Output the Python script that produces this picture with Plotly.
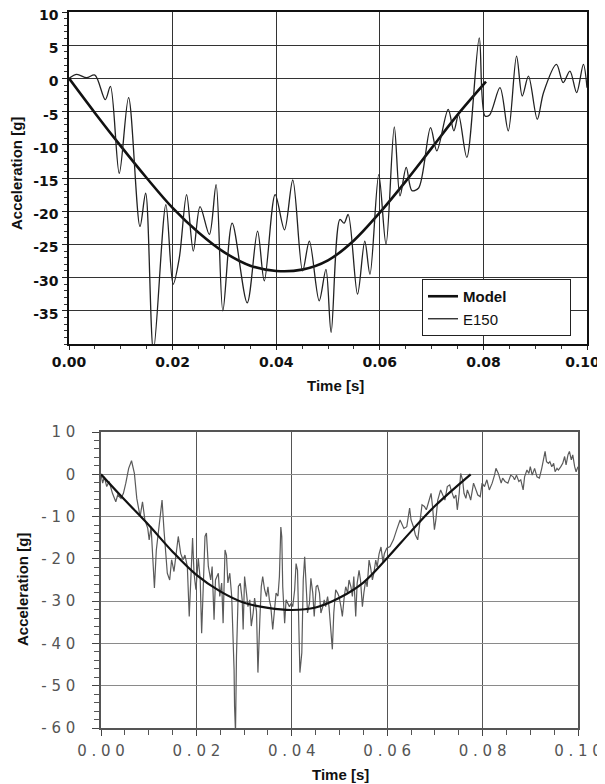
import plotly.graph_objects as go

# ---------------- data: top panel ----------------
top_model_t = [0, 0.005, 0.01, 0.015, 0.02, 0.025, 0.03, 0.035, 0.04, 0.045,
               0.05, 0.055, 0.06, 0.065, 0.07, 0.075, 0.0805]
top_model_v = [0, -5.2, -10.2, -15.0, -19.5, -23.2, -26.2, -28.2, -29.0, -28.8,
               -27.4, -24.4, -20.2, -15.5, -10.5, -5.5, -0.5]

top_e150_t = [0, 0.0015, 0.0034, 0.005, 0.007, 0.008, 0.0097, 0.0115, 0.0137, 0.0148,
              0.0163, 0.0187, 0.0201, 0.0213, 0.0227, 0.024, 0.0253, 0.0271, 0.0284, 0.0297,
              0.0315, 0.0344, 0.0364, 0.0377, 0.0398, 0.0416, 0.0432, 0.0451, 0.0464, 0.0483,
              0.0496, 0.0506, 0.0523, 0.0531, 0.0539, 0.0557, 0.0571, 0.0581, 0.0598, 0.0612,
              0.0628, 0.0639, 0.0651, 0.0662, 0.0675, 0.0698, 0.071, 0.0732, 0.0743, 0.0752,
              0.0768, 0.0792, 0.0803, 0.0812, 0.0832, 0.0848, 0.0864, 0.0875, 0.0887, 0.0904,
              0.0916, 0.0941, 0.0954, 0.0967, 0.098, 0.0993, 0.1]
top_e150_v = [0, 0.6, 0.1, 0.5, -3.2, -1.2, -14.3, -2.9, -22.3, -17.3,
              -41.0, -19.0, -31.0, -27.0, -17.5, -26.0, -19.3, -23.5, -16.0, -35.0,
              -21.8, -33.8, -23.0, -30.5, -17.5, -22.8, -15.3, -29.0, -24.5, -33.5,
              -28.75, -38.25, -21.25, -21.8, -20.5, -32.5, -24.5, -29.5, -14.5, -25.0,
              -7.3, -17.7, -13.4, -16.9, -16.5, -7.4, -10.9, -4.65, -7.9, -5.5,
              -11.9, 6.1, -5.65, -5.5, -1.4, -7.9, 3.35, -2.65, 0.35, -6.15,
              -2.15, 2.1, -0.65, 1.1, -2.15, 2.1, -1.4]

top_xticks = [0, 0.02, 0.04, 0.06, 0.08, 0.10]
top_xlabels = ["0.00", "0.02", "0.04", "0.06", "0.08", "0.10"]
top_yticks = [-35, -30, -25, -20, -15, -10, -5, 0, 5, 10]
top_ylabels = ["-35", "-30", "-25", "-20", "-15", "-10", "-5", "0", "5", "10"]

# ---------------- data: bottom panel ----------------
bot_model_t = [0, 0.005, 0.01, 0.015, 0.02, 0.025, 0.03, 0.035, 0.04, 0.045,
               0.05, 0.055, 0.06, 0.065, 0.07, 0.0775]
bot_model_v = [0, -6.1, -12.0, -18.3, -23.8, -27.7, -30.4, -31.6, -32.1, -31.5,
               -29.2, -25.6, -19.8, -13.5, -7.5, 0.0]

bot_meas_t = [0, 0.00035, 0.0007, 0.0012, 0.0017, 0.0024, 0.0031, 0.0035, 0.0042, 0.0047,
              0.0052, 0.0058, 0.0064, 0.007, 0.0075, 0.0082, 0.0087, 0.0092, 0.0098, 0.0101,
              0.0105, 0.0109, 0.0112, 0.0116, 0.0122, 0.0128, 0.0132, 0.0135, 0.0139, 0.0144,
              0.0148, 0.0153, 0.0158, 0.0162, 0.0167, 0.0172, 0.0176, 0.0181, 0.0185, 0.0188,
              0.0192, 0.0195, 0.0199, 0.0204, 0.0208, 0.0211, 0.0215, 0.0218, 0.0221, 0.0225,
              0.023, 0.0233, 0.0237, 0.024, 0.0246, 0.0249, 0.0253, 0.0256, 0.026, 0.0263,
              0.0266, 0.027, 0.0274, 0.0277, 0.0279, 0.028, 0.0282, 0.0284, 0.0288, 0.0292,
              0.0296, 0.0298, 0.0301, 0.0305, 0.0308, 0.0312, 0.0315, 0.0319, 0.0322, 0.0326,
              0.0329, 0.0333, 0.0336, 0.0339, 0.0343, 0.0347, 0.035, 0.0353, 0.0356, 0.036,
              0.0364, 0.0367, 0.0371, 0.0374, 0.0377, 0.0379, 0.0381, 0.0385, 0.0388, 0.0392,
              0.0395, 0.0399, 0.0402, 0.0406, 0.0409, 0.0412, 0.0415, 0.0417, 0.0421, 0.0424,
              0.0427, 0.043, 0.0433, 0.0437, 0.044, 0.0444, 0.0447, 0.0451, 0.0454, 0.0458,
              0.0461, 0.0465, 0.0468, 0.0471, 0.0475, 0.0478, 0.0481, 0.0485, 0.0488, 0.0492,
              0.0496, 0.0499, 0.0503, 0.0506, 0.051, 0.0513, 0.0517, 0.052, 0.0524, 0.0527,
              0.053, 0.0534, 0.0537, 0.0541, 0.0544, 0.0548, 0.0551, 0.0555, 0.0558, 0.0562,
              0.0565, 0.0569, 0.0572, 0.0576, 0.0579, 0.0583, 0.0587, 0.0591, 0.0594, 0.0599,
              0.0606, 0.0613, 0.062, 0.0627, 0.0635, 0.0641, 0.0647, 0.065, 0.0655, 0.0659,
              0.0664, 0.0668, 0.0673, 0.0678, 0.0682, 0.0687, 0.0692, 0.0695, 0.0699, 0.0702,
              0.0706, 0.0712, 0.0716, 0.0721, 0.0726, 0.0731, 0.0734, 0.074, 0.0744, 0.0747,
              0.0751, 0.0754, 0.0758, 0.0761, 0.0765, 0.0768, 0.0772, 0.0775, 0.0781, 0.0786,
              0.079, 0.0795, 0.0799, 0.0804, 0.0809, 0.0814, 0.082, 0.0825, 0.0828, 0.0833,
              0.0839, 0.0842, 0.0847, 0.0853, 0.0859, 0.0864, 0.0867, 0.0871, 0.0876, 0.088,
              0.0885, 0.0888, 0.0893, 0.0897, 0.09, 0.0904, 0.0909, 0.0914, 0.0919, 0.0924,
              0.0927, 0.0931, 0.0934, 0.0938, 0.0941, 0.0945, 0.0949, 0.0952, 0.0956, 0.0959,
              0.0964, 0.0968, 0.0972, 0.0975, 0.0979, 0.0982, 0.0986, 0.0989, 0.0993, 0.0996,
              0.1]
bot_meas_v = [0, -2.1, -0.6, -2.9, -1.7, -4.5, -6.5, -4.9, -5.7, -4.5,
              -2.1, 1.4, 3.2, 0.2, -5.7, -10.0, -6.5, -10.8, -12.8, -15.5,
              -12.4, -21.8, -26.9, -17.9, -12.4, -6.1, -13.1, -18.7, -23.4, -25.0,
              -20.2, -23.0, -17.9, -14.7, -18.7, -20.2, -19.1, -21.8, -33.6, -23.4,
              -15.1, -23.4, -27.3, -19.8, -25.0, -37.6, -26.5, -14.7, -13.9, -21.8,
              -25.0, -21.8, -34.4, -25.0, -23.4, -28.9, -25.7, -35.2, -17.9, -19.1,
              -25.7, -23.4, -28.9, -39.1, -46.2, -54.9, -61.0, -43.1, -26.5, -25.8,
              -29.7, -36.7, -24.2, -28.1, -31.3, -29.7, -35.9, -32.8, -29.3, -32.4,
              -46.9, -34.4, -26.6, -24.2, -27.3, -28.9, -26.6, -29.7, -31.3, -36.7,
              -32.0, -28.1, -28.8, -24.2, -12.5, -14.8, -26.6, -35.2, -29.7, -30.5,
              -31.3, -30.5, -31.3, -27.3, -21.1, -22.7, -35.2, -46.9, -42.2, -25.0,
              -19.5, -25.0, -32.8, -30.5, -24.6, -28.1, -33.6, -26.6, -26.2, -28.1,
              -32.8, -31.3, -29.7, -31.3, -28.9, -31.3, -36.7, -41.4, -32.8, -27.3,
              -28.1, -28.9, -31.3, -33.6, -28.9, -26.6, -28.1, -25.0, -26.6, -28.9,
              -24.2, -33.6, -25.8, -22.7, -25.0, -31.3, -28.1, -25.0, -26.6, -20.3,
              -21.9, -25.0, -23.4, -20.3, -21.9, -18.8, -17.2, -20.7, -18.8, -17.5,
              -17.1, -15.5, -13.1, -10.8, -12.8, -12.4, -8.0, -10.8, -12.4, -14.3,
              -15.5, -12.0, -7.2, -7.6, -8.4, -6.5, -4.5, -7.6, -13.1, -10.8,
              -6.1, -3.7, -4.9, -6.1, -2.9, -2.5, -3.7, -5.7, -4.9, -8.4,
              -4.5, 0.2, -1.3, -4.5, -5.7, -3.7, -4.9, -6.1, -2.1, -3.7,
              -4.9, -5.3, -2.1, -2.9, -1.3, -3.7, -2.1, -0.2, 1.4, 0.2,
              -2.1, -0.9, -1.7, -2.1, -0.2, -0.6, -1.3, -0.2, -1.7, -1.3,
              -3.7, -0.6, 1.0, 0.2, 1.8, -0.2, 1.4, -0.6, -0.9, 1.4,
              3.4, 5.4, 3.0, 2.6, 3.0, 1.8, 2.6, 0.6, 1.4, 1.0,
              1.8, 2.6, 4.2, 2.2, 4.6, 5.4, 3.4, 4.6, 1.8, 0.6,
              1.8]

bot_xticks = [0, 0.02, 0.04, 0.06, 0.08, 0.10]
bot_xlabels = ["0.00", "0.02", "0.04", "0.06", "0.08", "0.10"]
bot_yticks = [-60, -50, -40, -30, -20, -10, 0, 10]
bot_ylabels = ["-60", "-50", "-40", "-30", "-20", "-10", "0", "10"]

# ---------------- figure ----------------
# the page body adds an 8px margin, so the figure is 8px smaller than the window
OFF = 8
W, H = 605 - OFF, 784 - OFF


def spaced(s):
    return " ".join(list(s))


def px_x(p):
    return (p - OFF) / W


def px_y(p):
    return 1 - (p - OFF) / H


# last top x label nudged left a little so it stays inside the page
top_xtext = ["<b>%s</b>" % s for s in top_xlabels]
top_xtext[-1] = top_xtext[-1] + "\u00a0\u00a0"

fig = go.Figure()

fig.add_trace(go.Scatter(x=top_model_t, y=top_model_v, mode="lines",
                         name="<b>Model</b>" + "\u00a0" * 14,
                         line=dict(color="#111111", width=2.6, shape="spline", smoothing=1.0),
                         xaxis="x", yaxis="y"))
fig.add_trace(go.Scatter(x=top_e150_t, y=top_e150_v, mode="lines",
                         name="E150",
                         line=dict(color="#222222", width=1.3, shape="spline", smoothing=0.9),
                         xaxis="x", yaxis="y"))
fig.add_trace(go.Scatter(x=bot_meas_t, y=bot_meas_v, mode="lines", showlegend=False,
                         line=dict(color="#5a5a5a", width=1.2),
                         xaxis="x2", yaxis="y2"))
fig.add_trace(go.Scatter(x=bot_model_t, y=bot_model_v, mode="lines", showlegend=False,
                         line=dict(color="#111111", width=2.2, shape="spline", smoothing=1.0),
                         xaxis="x2", yaxis="y2"))

top_tick_font = dict(family="DejaVu Sans", size=14, color="#111111")
bot_tick_font = dict(family="DejaVu Sans", size=15, color="#555555")

fig.update_layout(
    width=W, height=H,
    margin=dict(l=0, r=0, t=0, b=0, autoexpand=False),
    paper_bgcolor="white", plot_bgcolor="white",
    showlegend=True,
    legend=dict(x=px_x(422), y=px_y(279), xanchor="left", yanchor="top",
                bgcolor="white", bordercolor="#222222", borderwidth=1,
                font=dict(family="Liberation Sans, Arial", size=15, color="#111111"),
                itemwidth=30, tracegroupgap=2),
    xaxis=dict(domain=[px_x(69), px_x(587)], anchor="y", range=[0, 0.1], automargin=False,
               tickmode="array", tickvals=top_xticks, ticktext=top_xtext,
               tickfont=top_tick_font, ticks="outside", ticklen=4, tickcolor="#222",
               ticklabelstandoff=0, ticklabeloverflow="allow",
               minor=dict(dtick=0.005, ticks="outside", ticklen=3, tickcolor="#333", showgrid=False),
               showgrid=True, gridcolor="#333333", gridwidth=1,
               showline=True, linecolor="#111111", linewidth=1.5, mirror=True,
               zeroline=False),
    yaxis=dict(domain=[px_y(344), px_y(12)], anchor="x", range=[-40, 10], automargin=False,
               tickmode="array", tickvals=top_yticks,
               ticktext=["<b>%s</b>" % s for s in top_ylabels],
               tickfont=top_tick_font, ticks="outside", ticklen=5, tickcolor="#222",
               ticklabelstandoff=1, ticklabelshift=3, ticklabeloverflow="allow",
               minor=dict(dtick=1, ticks="outside", ticklen=3, tickcolor="#333", showgrid=False),
               showgrid=True, gridcolor="#333333", gridwidth=1,
               showline=True, linecolor="#111111", linewidth=1.5, mirror=True,
               zeroline=False),
    xaxis2=dict(domain=[px_x(101), px_x(578)], anchor="y2", range=[0, 0.1], automargin=False,
                tickmode="array", tickvals=bot_xticks,
                ticktext=[spaced(s) for s in bot_xlabels],
                tickfont=bot_tick_font, ticks="outside", ticklen=6, tickcolor="#444",
                ticklabelstandoff=2, ticklabeloverflow="allow",
                minor=dict(dtick=0.005, ticks="outside", ticklen=5, tickcolor="#555", showgrid=False),
                showgrid=True, gridcolor="#555555", gridwidth=1.2,
                showline=True, linecolor="#555555", linewidth=1.5, mirror=True,
                zeroline=False),
    yaxis2=dict(domain=[px_y(728), px_y(432)], anchor="x2", range=[-60, 10], automargin=False,
                tickmode="array", tickvals=bot_yticks,
                ticktext=[spaced(s) for s in bot_ylabels],
                tickfont=bot_tick_font, ticks="outside", ticklen=7, tickcolor="#444",
                ticklabelstandoff=14, ticklabeloverflow="allow",
                minor=dict(dtick=2, ticks="outside", ticklen=5, tickcolor="#555", showgrid=False),
                showgrid=True, gridcolor="#8a8a8a", gridwidth=1,
                showline=True, linecolor="#555555", linewidth=1.5, mirror=True,
                zeroline=False),
)

title_font = dict(family="Liberation Sans, Arial", size=15, color="#111111")
annos = [
    dict(text="<b>Acceleration [g]</b>", x=px_x(16), y=px_y(174), textangle=-90),
    dict(text="<b>Time [s]</b>", x=px_x(335), y=px_y(385), textangle=0),
    dict(text="<b>Acceleration [g]</b>", x=px_x(22), y=px_y(590), textangle=-90),
    dict(text="<b>Time [s]</b>", x=px_x(340), y=px_y(774), textangle=0),
]
for a in annos:
    fig.add_annotation(xref="paper", yref="paper", showarrow=False,
                       xanchor="center", yanchor="middle", font=title_font, **a)

fig.write_html("out.html")
